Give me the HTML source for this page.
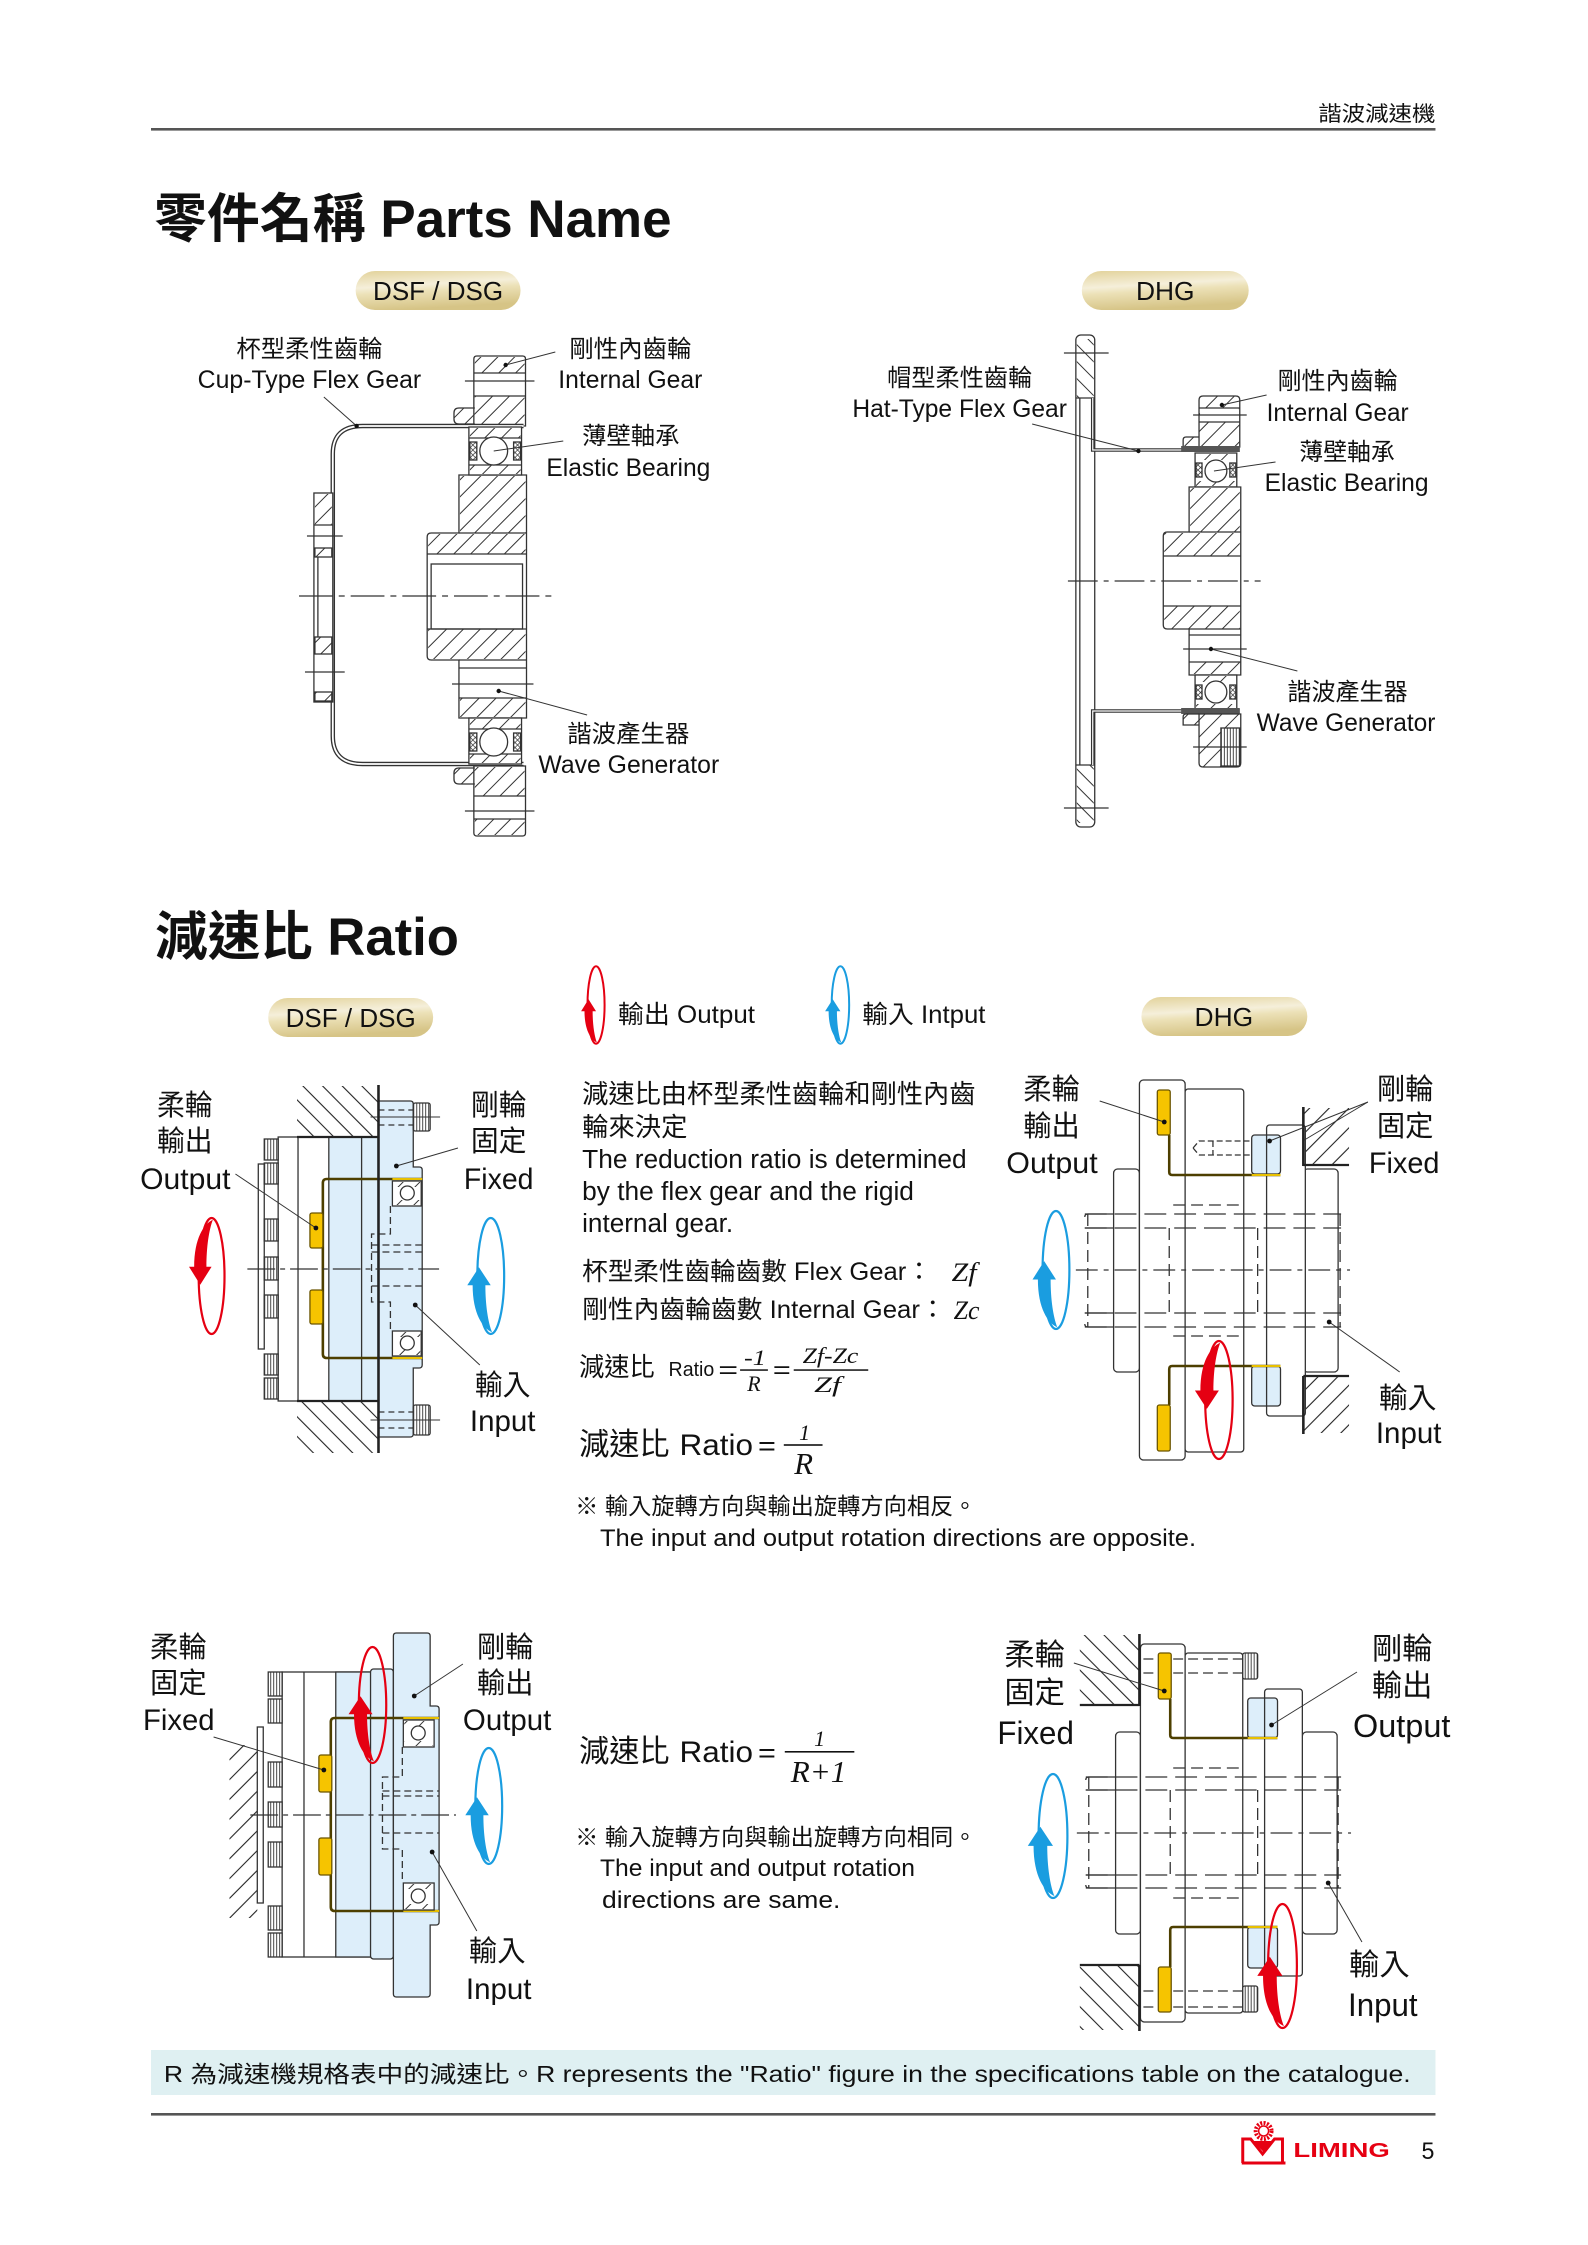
<!DOCTYPE html>
<html><head><meta charset="utf-8"><title>零件名稱 Parts Name</title>
<style>
html,body{margin:0;padding:0;background:#fff;}
svg{display:block;}
text{font-family:"Liberation Sans","Noto Sans CJK TC",sans-serif;fill:#111;}
.m{font-family:"Liberation Serif","Noto Serif CJK SC",serif;font-style:italic;}
</style></head><body>
<svg xmlns="http://www.w3.org/2000/svg" width="1588" height="2245" viewBox="0 0 1588 2245">
<defs>
<pattern id="hf" patternUnits="userSpaceOnUse" width="12" height="12" patternTransform="rotate(45)"><line x1="6" y1="0" x2="6" y2="12" stroke="#333" stroke-width="1"/></pattern>
<pattern id="hb" patternUnits="userSpaceOnUse" width="12" height="12" patternTransform="rotate(-45)"><line x1="6" y1="0" x2="6" y2="12" stroke="#333" stroke-width="1"/></pattern>
<pattern id="rf" patternUnits="userSpaceOnUse" width="14" height="14" patternTransform="rotate(45)"><line x1="7" y1="0" x2="7" y2="14" stroke="#222" stroke-width="1.1"/></pattern>
<pattern id="rb" patternUnits="userSpaceOnUse" width="14" height="14" patternTransform="rotate(-45)"><line x1="7" y1="0" x2="7" y2="14" stroke="#222" stroke-width="1.1"/></pattern>
<pattern id="kn" patternUnits="userSpaceOnUse" width="3" height="8"><rect width="3" height="8" fill="#fff"/><line x1="1.5" y1="0" x2="1.5" y2="8" stroke="#333" stroke-width="0.9"/></pattern>
<pattern id="xx" patternUnits="userSpaceOnUse" width="5" height="5"><rect width="5" height="5" fill="#fff"/><path d="M0,0 L5,5 M5,0 L0,5" stroke="#333" stroke-width="0.7"/></pattern>
<linearGradient id="pg" x1="0" y1="0" x2="0.25" y2="1">
<stop offset="0" stop-color="#e2d29a"/><stop offset="0.42" stop-color="#f5efda"/><stop offset="0.58" stop-color="#ece1b7"/><stop offset="1" stop-color="#d6c486"/></linearGradient>
</defs>
<g transform="translate(151,0) scale(0.9934,1) translate(-151,0)">

<!-- HEADER -->
<text x="1326" y="121" font-size="21" textLength="118" lengthAdjust="spacingAndGlyphs">諧波減速機</text>
<rect x="151" y="128" width="1293" height="2.6" fill="#555"/>
<text x="154" y="237" font-size="53" font-weight="bold" textLength="521" lengthAdjust="spacingAndGlyphs">零件名稱 Parts Name</text>

<!-- PILLS top -->
<rect x="357" y="271" width="166" height="39" rx="19.5" fill="url(#pg)"/>
<text x="440" y="300" font-size="26" text-anchor="middle" textLength="131" lengthAdjust="spacingAndGlyphs" fill="#222">DSF / DSG</text>
<rect x="1088" y="271" width="168" height="39" rx="19.5" fill="url(#pg)"/>
<text x="1172" y="300" font-size="26" text-anchor="middle" textLength="59" lengthAdjust="spacingAndGlyphs" fill="#222">DHG</text>

<!-- DSF PARTS DRAWING -->
<g stroke="#333" stroke-width="1.3" fill="none">
<path d="M476,426 V359 Q476,356 479,356 H525 Q528,356 528,359 V426 Z" fill="#fff"/>
<rect x="477" y="357" width="50" height="16" fill="url(#hf)" stroke="none"/>
<line x1="476" y1="373" x2="528" y2="373"/>
<line x1="467" y1="381" x2="537" y2="381"/>
<line x1="476" y1="396" x2="528" y2="396"/>
<rect x="477" y="396" width="50" height="29" fill="url(#hf)" stroke="none"/>
<path d="M477,408 H461 Q456,408 456,413 V419 Q456,424 461,424 H477" fill="url(#hf)"/>
<path d="M476,766 V833 Q476,836 479,836 H525 Q528,836 528,833 V766 Z" fill="#fff"/>
<rect x="477" y="767" width="50" height="29" fill="url(#hf)" stroke="none"/>
<line x1="476" y1="796" x2="528" y2="796"/>
<line x1="467" y1="811" x2="537" y2="811"/>
<line x1="476" y1="819" x2="528" y2="819"/>
<rect x="477" y="819" width="50" height="16" fill="url(#hf)" stroke="none"/>
<path d="M477,768 H461 Q456,768 456,773 V779 Q456,784 461,784 H477" fill="url(#hf)"/>
<path d="M526,426 H364 Q334,426 334,454 V736 Q334,764 364,764 H526" stroke="#333" stroke-width="4.5"/>
<path d="M526,426 H364 Q334,426 334,454 V736 Q334,764 364,764 H526" stroke="#fff" stroke-width="1.8"/>
<rect x="315" y="493" width="19" height="209" fill="#fff"/>
<rect x="316" y="494" width="17" height="31" fill="url(#hf)" stroke="none"/>
<line x1="315" y1="525" x2="334" y2="525"/>
<line x1="308" y1="536" x2="344" y2="536"/>
<rect x="316" y="548" width="17" height="9" fill="url(#hf)"/>
<line x1="319" y1="557" x2="319" y2="637"/>
<rect x="316" y="637" width="17" height="17" fill="url(#hf)"/>
<line x1="306" y1="672" x2="346" y2="672"/>
<rect x="316" y="692" width="17" height="9" fill="url(#hf)"/>
<path d="M461,475 H529 V718 H461 V660 H433 Q429,660 429,656 V537 Q429,533 433,533 H461 Z" fill="#fff"/>
<rect x="462" y="476" width="66" height="57" fill="url(#hf)" stroke="none"/>
<rect x="430" y="534" width="98" height="20" fill="url(#hf)" stroke="none"/>
<line x1="429" y1="554" x2="529" y2="554"/>
<rect x="433" y="564" width="92" height="65"/>
<rect x="430" y="629" width="98" height="30" fill="url(#hf)" stroke="none"/>
<line x1="429" y1="629" x2="529" y2="629"/>
<line x1="461" y1="533" x2="529" y2="533"/>
<line x1="461" y1="660" x2="529" y2="660"/>
<line x1="461" y1="668" x2="529" y2="668"/>
<line x1="454" y1="684" x2="536" y2="684"/>
<line x1="461" y1="698" x2="529" y2="698"/>
<rect x="462" y="698" width="66" height="19" fill="url(#hf)" stroke="none"/>
<rect x="471" y="427" width="53" height="48" fill="#fff"/>
<rect x="472" y="428" width="51" height="10" fill="url(#hf)" stroke="none"/>
<line x1="471" y1="438" x2="524" y2="438"/>
<rect x="472" y="465" width="51" height="9" fill="url(#hf)" stroke="none"/>
<line x1="471" y1="465" x2="524" y2="465"/>
<rect x="472" y="442" width="7" height="18" fill="url(#xx)"/>
<rect x="516" y="442" width="7" height="18" fill="url(#xx)"/>
<circle cx="496" cy="451" r="14" fill="#fff"/>
<rect x="471" y="718" width="53" height="46" fill="#fff"/>
<rect x="472" y="719" width="51" height="10" fill="url(#hf)" stroke="none"/>
<line x1="471" y1="729" x2="524" y2="729"/>
<rect x="472" y="754" width="51" height="9" fill="url(#hf)" stroke="none"/>
<line x1="471" y1="754" x2="524" y2="754"/>
<rect x="472" y="733" width="7" height="18" fill="url(#xx)"/>
<rect x="516" y="733" width="7" height="18" fill="url(#xx)"/>
<circle cx="496" cy="742" r="14" fill="#fff"/>
<line x1="300" y1="596" x2="560" y2="596" stroke-dasharray="34 6 6 6"/>
<line x1="325" y1="397" x2="358" y2="426" stroke-width="1"/>
<line x1="558" y1="352" x2="508" y2="365" stroke-width="1"/>
<line x1="566" y1="441" x2="496" y2="451" stroke-width="1"/>
<line x1="590" y1="715" x2="501" y2="691" stroke-width="1"/>
</g>
<g fill="#111"><circle cx="358" cy="426" r="2.2"/><circle cx="508" cy="365" r="2.2"/><circle cx="501" cy="691" r="2.2"/></g>
<text x="237" y="357" font-size="24" textLength="147" lengthAdjust="spacingAndGlyphs">杯型柔性齒輪</text>
<text x="198" y="388" font-size="25" textLength="225" lengthAdjust="spacingAndGlyphs">Cup-Type Flex Gear</text>
<text x="572" y="357" font-size="24" textLength="123" lengthAdjust="spacingAndGlyphs">剛性內齒輪</text>
<text x="561" y="388" font-size="25" textLength="145" lengthAdjust="spacingAndGlyphs">Internal Gear</text>
<text x="585" y="444" font-size="24" textLength="98" lengthAdjust="spacingAndGlyphs">薄壁軸承</text>
<text x="549" y="476" font-size="25" textLength="165" lengthAdjust="spacingAndGlyphs">Elastic Bearing</text>
<text x="570" y="742" font-size="24" textLength="123" lengthAdjust="spacingAndGlyphs">諧波產生器</text>
<text x="541" y="773" font-size="25" textLength="182" lengthAdjust="spacingAndGlyphs">Wave Generator</text>

<!-- DHG PARTS DRAWING -->
<g stroke="#333" stroke-width="1.3" fill="none">
<rect x="1082" y="335" width="19" height="492" rx="5" fill="#fff"/>
<rect x="1083" y="339" width="17" height="59" fill="url(#hb)" stroke="none"/>
<rect x="1083" y="765" width="17" height="58" fill="url(#hb)" stroke="none"/>
<line x1="1082" y1="398" x2="1101" y2="398"/>
<line x1="1082" y1="765" x2="1101" y2="765"/>
<line x1="1086" y1="398" x2="1086" y2="765"/>
<line x1="1070" y1="353" x2="1115" y2="353"/>
<line x1="1070" y1="808" x2="1115" y2="808"/>
<path d="M1099,398 V450 H1247" stroke-width="3.6"/>
<path d="M1099,398 V450 H1247" stroke="#fff" stroke-width="1.2"/>
<path d="M1099,765 V711 H1247" stroke-width="3.6"/>
<path d="M1099,765 V711 H1247" stroke="#fff" stroke-width="1.2"/>
<path d="M1206,447 V400 Q1206,396 1210,396 H1243 Q1247,396 1247,400 V447 Z" fill="url(#hf)"/>
<rect x="1207" y="408" width="39" height="14" fill="#fff" stroke="none"/>
<line x1="1206" y1="408" x2="1247" y2="408"/><line x1="1206" y1="422" x2="1247" y2="422"/>
<line x1="1200" y1="415" x2="1254" y2="415"/>
<path d="M1206,437 H1193 Q1190,437 1190,440 V447 H1206" fill="url(#hf)"/>
<rect x="1188" y="446" width="59" height="6" fill="#555" stroke="none"/>
<rect x="1202" y="453" width="42" height="34" fill="#fff"/>
<rect x="1203" y="454" width="40" height="6" fill="url(#hf)" stroke="none"/>
<rect x="1203" y="481" width="40" height="5" fill="url(#hf)" stroke="none"/>
<rect x="1203" y="463" width="6" height="14" fill="url(#xx)"/>
<rect x="1237" y="463" width="6" height="14" fill="url(#xx)"/>
<circle cx="1223" cy="471" r="11" fill="#fff"/>
<path d="M1196,487 H1248 V675 H1196 V629 H1174 Q1170,629 1170,625 V536 Q1170,532 1174,532 H1196 Z" fill="#fff"/>
<rect x="1197" y="488" width="50" height="44" fill="url(#hf)" stroke="none"/>
<rect x="1171" y="533" width="76" height="23" fill="url(#hf)" stroke="none"/>
<line x1="1170" y1="556" x2="1248" y2="556"/>
<line x1="1170" y1="606" x2="1248" y2="606"/>
<rect x="1171" y="606" width="76" height="23" fill="url(#hf)" stroke="none"/>
<line x1="1196" y1="532" x2="1248" y2="532"/>
<line x1="1196" y1="629" x2="1248" y2="629"/>
<line x1="1196" y1="635" x2="1248" y2="635"/>
<line x1="1190" y1="649" x2="1254" y2="649"/>
<line x1="1196" y1="662" x2="1248" y2="662"/>
<rect x="1197" y="662" width="50" height="12" fill="url(#hf)" stroke="none"/>
<rect x="1202" y="675" width="42" height="35" fill="#fff"/>
<rect x="1203" y="676" width="40" height="6" fill="url(#hf)" stroke="none"/>
<rect x="1203" y="704" width="40" height="5" fill="url(#hf)" stroke="none"/>
<rect x="1203" y="685" width="6" height="14" fill="url(#xx)"/>
<rect x="1237" y="685" width="6" height="14" fill="url(#xx)"/>
<circle cx="1223" cy="692" r="11" fill="#fff"/>
<rect x="1188" y="708" width="59" height="6" fill="#555" stroke="none"/>
<path d="M1206,714 V763 Q1206,767 1210,767 H1244 Q1248,767 1248,763 V714 Z" fill="url(#hf)"/>
<rect x="1228" y="728" width="19" height="38" fill="url(#kn)"/>
<line x1="1200" y1="747" x2="1254" y2="747"/>
<path d="M1206,714 H1193 Q1190,714 1190,717 V725 H1206" fill="url(#hf)"/>
<line x1="1074" y1="581" x2="1268" y2="581" stroke-dasharray="30 6 5 6"/>
<line x1="1038" y1="424" x2="1145" y2="451" stroke-width="1"/>
<line x1="1274" y1="395" x2="1229" y2="405" stroke-width="1"/>
<line x1="1283" y1="462" x2="1221" y2="471" stroke-width="1"/>
<line x1="1305" y1="671" x2="1218" y2="649" stroke-width="1"/>
</g>
<g fill="#111"><circle cx="1145" cy="451" r="2.2"/><circle cx="1229" cy="405" r="2.2"/><circle cx="1218" cy="649" r="2.2"/></g>
<text x="892" y="386" font-size="24" textLength="146" lengthAdjust="spacingAndGlyphs">帽型柔性齒輪</text>
<text x="857" y="417" font-size="25" textLength="216" lengthAdjust="spacingAndGlyphs">Hat-Type Flex Gear</text>
<text x="1285" y="389" font-size="24" textLength="121" lengthAdjust="spacingAndGlyphs">剛性內齒輪</text>
<text x="1274" y="421" font-size="25" textLength="143" lengthAdjust="spacingAndGlyphs">Internal Gear</text>
<text x="1307" y="460" font-size="24" textLength="96" lengthAdjust="spacingAndGlyphs">薄壁軸承</text>
<text x="1272" y="491" font-size="25" textLength="165" lengthAdjust="spacingAndGlyphs">Elastic Bearing</text>
<text x="1295" y="700" font-size="24" textLength="121" lengthAdjust="spacingAndGlyphs">諧波產生器</text>
<text x="1264" y="731" font-size="25" textLength="180" lengthAdjust="spacingAndGlyphs">Wave Generator</text>

<!-- RATIO TITLE -->
<text x="155" y="955" font-size="53" font-weight="bold" textLength="306" lengthAdjust="spacingAndGlyphs">減速比 Ratio</text>
<rect x="269" y="998" width="166" height="39" rx="19.5" fill="url(#pg)"/>
<text x="352" y="1027" font-size="26" text-anchor="middle" textLength="131" lengthAdjust="spacingAndGlyphs" fill="#222">DSF / DSG</text>
<rect x="1148" y="997" width="167" height="39" rx="19.5" fill="url(#pg)"/>
<text x="1231" y="1026" font-size="26" text-anchor="middle" textLength="59" lengthAdjust="spacingAndGlyphs" fill="#222">DHG</text>

<!-- LEGEND -->
<g transform="translate(599,1005) scale(8.6,38.7)"><ellipse cx="0" cy="0" rx="1" ry="1" fill="none" stroke="#e50012" stroke-width="2" vector-effect="non-scaling-stroke"/><path d="M0.1,0.97 C-0.6,0.9 -1.35,0.65 -1.35,0.16 L-1.75,0.16 L-0.88,-0.15 L0,0.16 L-0.4,0.16 C-0.4,0.5 -0.2,0.8 0.1,0.97 Z" fill="#e50012"/></g>
<text x="621" y="1023" font-size="25" textLength="138" lengthAdjust="spacingAndGlyphs">輸出 Output</text>
<g transform="translate(845,1005) scale(8.8,38.7)"><ellipse cx="0" cy="0" rx="1" ry="1" fill="none" stroke="#1a9de0" stroke-width="2" vector-effect="non-scaling-stroke"/><path d="M0.1,0.97 C-0.6,0.9 -1.35,0.65 -1.35,0.16 L-1.75,0.16 L-0.88,-0.15 L0,0.16 L-0.4,0.16 C-0.4,0.5 -0.2,0.8 0.1,0.97 Z" fill="#1a9de0"/></g>
<text x="867" y="1023" font-size="25" textLength="124" lengthAdjust="spacingAndGlyphs">輸入 Intput</text>

<!-- PARAGRAPH -->
<text x="585" y="1103" font-size="26" textLength="396" lengthAdjust="spacingAndGlyphs">減速比由杯型柔性齒輪和剛性內齒</text>
<text x="585" y="1136" font-size="26" textLength="106" lengthAdjust="spacingAndGlyphs">輪來決定</text>
<text x="585" y="1168" font-size="26" textLength="387" lengthAdjust="spacingAndGlyphs">The reduction ratio is determined</text>
<text x="585" y="1200" font-size="26" textLength="334" lengthAdjust="spacingAndGlyphs">by the flex gear and the rigid</text>
<text x="585" y="1232" font-size="26" textLength="152" lengthAdjust="spacingAndGlyphs">internal gear.</text>
<text x="585" y="1280" font-size="25" textLength="352" lengthAdjust="spacingAndGlyphs">杯型柔性齒輪齒數 Flex Gear：</text>
<text class="m" x="957" y="1281" font-size="26" textLength="25" lengthAdjust="spacingAndGlyphs">Zf</text>
<text x="585" y="1318" font-size="25" textLength="366" lengthAdjust="spacingAndGlyphs">剛性內齒輪齒數 Internal Gear：</text>
<text class="m" x="959" y="1319" font-size="26" textLength="26" lengthAdjust="spacingAndGlyphs">Zc</text>

<!-- FORMULA 1 -->
<text x="582" y="1376" font-size="26" textLength="76" lengthAdjust="spacingAndGlyphs">減速比</text>
<text x="672" y="1376" font-size="20" textLength="46" lengthAdjust="spacingAndGlyphs">Ratio</text>
<text x="722" y="1378" font-size="24" textLength="20" lengthAdjust="spacingAndGlyphs">=</text>
<text class="m" x="759" y="1365" font-size="22" text-anchor="middle" textLength="22" lengthAdjust="spacingAndGlyphs">-1</text>
<rect x="744" y="1369.3" width="28" height="1.5" fill="#111"/>
<text class="m" x="758" y="1391" font-size="22" text-anchor="middle">R</text>
<text x="777" y="1378" font-size="24" textLength="18" lengthAdjust="spacingAndGlyphs">=</text>
<text class="m" x="835" y="1363" font-size="22" text-anchor="middle" textLength="56" lengthAdjust="spacingAndGlyphs">Zf-Zc</text>
<rect x="798" y="1369.3" width="75" height="1.5" fill="#111"/>
<text class="m" x="832" y="1392" font-size="22" text-anchor="middle" textLength="27" lengthAdjust="spacingAndGlyphs">Zf</text>

<!-- FORMULA 2 -->
<text x="582" y="1455" font-size="31" textLength="91" lengthAdjust="spacingAndGlyphs">減速比</text>
<text x="683" y="1455" font-size="30" textLength="74" lengthAdjust="spacingAndGlyphs">Ratio</text>
<text x="762" y="1455" font-size="27" textLength="18" lengthAdjust="spacingAndGlyphs">=</text>
<text class="m" x="809" y="1440" font-size="22" text-anchor="middle">1</text>
<rect x="788" y="1444.2" width="39" height="1.6" fill="#111"/>
<text class="m" x="808" y="1474" font-size="31" text-anchor="middle">R</text>

<text x="578" y="1514" font-size="23" textLength="404" lengthAdjust="spacingAndGlyphs">※ 輸入旋轉方向與輸出旋轉方向相反。</text>
<text x="603" y="1546" font-size="24" textLength="600" lengthAdjust="spacingAndGlyphs">The input and output rotation directions are opposite.</text>

<!-- FORMULA 3 -->
<text x="582" y="1762" font-size="31" textLength="91" lengthAdjust="spacingAndGlyphs">減速比</text>
<text x="683" y="1762" font-size="30" textLength="74" lengthAdjust="spacingAndGlyphs">Ratio</text>
<text x="762" y="1762" font-size="27" textLength="18" lengthAdjust="spacingAndGlyphs">=</text>
<text class="m" x="824" y="1746" font-size="22" text-anchor="middle">1</text>
<rect x="789" y="1751" width="70" height="1.6" fill="#111"/>
<text class="m" x="823" y="1782" font-size="31" text-anchor="middle" textLength="56" lengthAdjust="spacingAndGlyphs">R+1</text>

<text x="578" y="1845" font-size="23" textLength="404" lengthAdjust="spacingAndGlyphs">※ 輸入旋轉方向與輸出旋轉方向相同。</text>
<text x="603" y="1876" font-size="24" textLength="317" lengthAdjust="spacingAndGlyphs">The input and output rotation</text>
<text x="605" y="1908" font-size="24" textLength="240" lengthAdjust="spacingAndGlyphs">directions are same.</text>

<!-- R1: DSF top ratio drawing -->
<g stroke="#333" stroke-width="1.3" fill="none">
<rect x="298" y="1086" width="82" height="51" fill="url(#rb)" stroke="none"/>
<rect x="298" y="1402" width="82" height="51" fill="url(#rb)" stroke="none"/>
<rect x="279" y="1137" width="101" height="264" fill="#fff"/>
<rect x="330" y="1137" width="50" height="264" fill="#ddeefa"/>
<line x1="299" y1="1137" x2="299" y2="1401"/>
<line x1="363" y1="1137" x2="363" y2="1401"/>
<rect x="259" y="1164" width="6" height="185" fill="#fff"/>
<rect x="265" y="1139" width="14" height="21" fill="url(#kn)"/>
<rect x="265" y="1163" width="14" height="21" fill="url(#kn)"/>
<rect x="265" y="1219" width="14" height="22" fill="url(#kn)"/>
<rect x="265" y="1257" width="14" height="23" fill="url(#kn)"/>
<rect x="265" y="1295" width="14" height="23" fill="url(#kn)"/>
<rect x="265" y="1354" width="14" height="21" fill="url(#kn)"/>
<rect x="265" y="1378" width="14" height="21" fill="url(#kn)"/>
<path d="M380,1101 H412 Q415,1101 415,1104 V1167 H421 Q424,1167 424,1170 V1365 Q424,1368 421,1368 H415 V1434 Q415,1437 412,1437 H380 Z" fill="#ddeefa"/>
<rect x="415" y="1103" width="17" height="28" rx="2" fill="url(#kn)"/>
<rect x="415" y="1405" width="17" height="30" rx="2" fill="url(#kn)"/>
<path d="M380,1110 H415 M380,1125 H415 M380,1412 H415 M380,1428 H415" stroke-dasharray="6 4"/>
<path d="M372,1117 H442 M372,1420 H442" stroke-width="1"/>
<path d="M424,1179 H328 Q324,1179 324,1183 V1354 Q324,1358 328,1358 H424" stroke="#4d3f00" stroke-width="2.6"/>
<line x1="394" y1="1179" x2="424" y2="1179" stroke="#e8c000" stroke-width="2"/>
<line x1="394" y1="1358" x2="424" y2="1358" stroke="#e8c000" stroke-width="2"/>
<rect x="311" y="1213" width="13" height="35" rx="2" fill="#f6c400" stroke="#6b5500"/>
<rect x="311" y="1290" width="13" height="34" rx="2" fill="#f6c400" stroke="#6b5500"/>
<rect x="394" y="1181" width="29" height="25" fill="#fff"/>
<rect x="395" y="1182" width="27" height="5" fill="url(#hf)" stroke="none"/>
<rect x="395" y="1200" width="27" height="5" fill="url(#hf)" stroke="none"/>
<circle cx="409" cy="1193" r="7" fill="#fff"/>
<rect x="394" y="1331" width="29" height="25" fill="#fff"/>
<rect x="395" y="1332" width="27" height="5" fill="url(#hf)" stroke="none"/>
<rect x="395" y="1350" width="27" height="5" fill="url(#hf)" stroke="none"/>
<circle cx="409" cy="1343" r="7" fill="#fff"/>
<path d="M392,1206 V1234 H373 V1302 H392 V1331" stroke-dasharray="7 4"/>
<path d="M373,1245 H424 M373,1252 H424 M373,1286 H424" stroke-dasharray="7 4"/>
<line x1="380" y1="1085" x2="380" y2="1453" stroke="#222" stroke-width="2.6"/>
<line x1="298" y1="1137" x2="380" y2="1137" stroke="#222" stroke-width="2.2"/>
<line x1="298" y1="1401" x2="380" y2="1401" stroke="#222" stroke-width="2.2"/>
<line x1="248" y1="1269" x2="441" y2="1269" stroke-dasharray="28 5 5 5"/>
<line x1="236" y1="1174" x2="317" y2="1228" stroke-width="1"/>
<line x1="460" y1="1148" x2="398" y2="1166" stroke-width="1"/>
<line x1="482" y1="1365" x2="417" y2="1305" stroke-width="1"/>
</g>
<g fill="#111"><circle cx="317" cy="1228" r="2.4"/><circle cx="398" cy="1166" r="2.4"/><circle cx="417" cy="1305" r="2.4"/></g>
<g transform="translate(212,1276) scale(13,-58)"><ellipse cx="0" cy="0" rx="1" ry="1" fill="none" stroke="#e50012" stroke-width="2.2" vector-effect="non-scaling-stroke"/><path d="M0.1,0.97 C-0.6,0.9 -1.35,0.65 -1.35,0.16 L-1.75,0.16 L-0.88,-0.15 L0,0.16 L-0.4,0.16 C-0.4,0.5 -0.2,0.8 0.1,0.97 Z" fill="#e50012"/></g>
<g transform="translate(493,1276) scale(13.5,58)"><ellipse cx="0" cy="0" rx="1" ry="1" fill="none" stroke="#1a9de0" stroke-width="2.2" vector-effect="non-scaling-stroke"/><path d="M0.1,0.97 C-0.6,0.9 -1.35,0.65 -1.35,0.16 L-1.75,0.16 L-0.88,-0.15 L0,0.16 L-0.4,0.16 C-0.4,0.5 -0.2,0.8 0.1,0.97 Z" fill="#1a9de0"/></g>
<text x="157" y="1115" font-size="29" textLength="56" lengthAdjust="spacingAndGlyphs">柔輪</text>
<text x="157" y="1151" font-size="29" textLength="56" lengthAdjust="spacingAndGlyphs">輸出</text>
<text x="140" y="1189" font-size="30" textLength="91" lengthAdjust="spacingAndGlyphs">Output</text>
<text x="473" y="1115" font-size="29" textLength="56" lengthAdjust="spacingAndGlyphs">剛輪</text>
<text x="473" y="1151" font-size="29" textLength="56" lengthAdjust="spacingAndGlyphs">固定</text>
<text x="466" y="1189" font-size="30" textLength="70" lengthAdjust="spacingAndGlyphs">Fixed</text>
<text x="477" y="1395" font-size="29" textLength="56" lengthAdjust="spacingAndGlyphs">輸入</text>
<text x="472" y="1431" font-size="30" textLength="66" lengthAdjust="spacingAndGlyphs">Input</text>

<!-- R2: DHG top ratio drawing -->
<g stroke="#333" stroke-width="1.3" fill="none">
<rect x="1311" y="1108" width="46" height="57" fill="url(#rf)" stroke="none"/>
<rect x="1311" y="1376" width="46" height="57" fill="url(#rf)" stroke="none"/>
<rect x="1120" y="1169" width="26" height="203" rx="4" fill="#fff"/>
<rect x="1311" y="1169" width="35" height="203" rx="4" fill="#fff"/>
<rect x="1146" y="1080" width="46" height="380" rx="4" fill="#fff"/>
<rect x="1192" y="1089" width="59" height="363" rx="3" fill="#fff"/>
<rect x="1274" y="1125" width="39" height="291" rx="3" fill="#fff"/>
<path d="M1091,1214 H1349 M1091,1228 H1349 M1091,1313 H1349 M1091,1327 H1349" stroke-dasharray="22 8"/>
<path d="M1180,1205 H1251 M1180,1336 H1251 M1176,1228 V1313 M1265,1228 V1313 M1348,1214 V1327 M1094,1214 V1327" stroke-dasharray="12 6"/>
<path d="M1120,1214 H1094 Q1091,1214 1091,1217 M1120,1228 H1091 M1120,1313 H1091 M1120,1327 H1094 Q1091,1327 1091,1324"/>
<rect x="1259" y="1135" width="29" height="39" rx="3" fill="#ddeefa"/>
<rect x="1259" y="1366" width="29" height="40" rx="3" fill="#ddeefa"/>
<line x1="1274" y1="1135" x2="1274" y2="1174"/><line x1="1274" y1="1366" x2="1274" y2="1406"/>
<path d="M1200,1148 L1206,1141 H1259 M1206,1155 H1259 M1200,1148 L1206,1155 M1220,1141 V1155" stroke-dasharray="6 3"/>
<path d="M1176,1135 V1172 Q1176,1175 1179,1175 H1288" stroke="#4d3f00" stroke-width="2.6"/>
<path d="M1176,1405 V1369 Q1176,1366 1179,1366 H1288" stroke="#4d3f00" stroke-width="2.6"/>
<line x1="1259" y1="1175" x2="1288" y2="1175" stroke="#e8c000" stroke-width="2"/>
<line x1="1259" y1="1366" x2="1288" y2="1366" stroke="#e8c000" stroke-width="2"/>
<rect x="1164" y="1090" width="13" height="45" rx="2" fill="#f6c400" stroke="#6b5500"/>
<rect x="1164" y="1405" width="13" height="46" rx="2" fill="#f6c400" stroke="#6b5500"/>
<line x1="1311" y1="1107" x2="1311" y2="1166" stroke="#222" stroke-width="2.6"/>
<line x1="1311" y1="1165" x2="1357" y2="1165" stroke="#222" stroke-width="2.2"/>
<line x1="1311" y1="1376" x2="1311" y2="1434" stroke="#222" stroke-width="2.6"/>
<line x1="1311" y1="1376" x2="1357" y2="1376" stroke="#222" stroke-width="2.2"/>
<line x1="1082" y1="1270" x2="1358" y2="1270" stroke-dasharray="22 6 5 6"/>
<line x1="1106" y1="1101" x2="1171" y2="1122" stroke-width="1"/>
<line x1="1376" y1="1102" x2="1277" y2="1141" stroke-width="1"/>
<line x1="1376" y1="1102" x2="1312" y2="1140" stroke-width="1"/>
<line x1="1408" y1="1372" x2="1337" y2="1322" stroke-width="1"/>
</g>
<g fill="#111"><circle cx="1171" cy="1122" r="2.4"/><circle cx="1277" cy="1141" r="2.4"/><circle cx="1337" cy="1322" r="2.4"/></g>
<g transform="translate(1062,1270) scale(13.5,59)"><ellipse cx="0" cy="0" rx="1" ry="1" fill="none" stroke="#1a9de0" stroke-width="2.2" vector-effect="non-scaling-stroke"/><path d="M0.1,0.97 C-0.6,0.9 -1.35,0.65 -1.35,0.16 L-1.75,0.16 L-0.88,-0.15 L0,0.16 L-0.4,0.16 C-0.4,0.5 -0.2,0.8 0.1,0.97 Z" fill="#1a9de0"/></g>
<g transform="translate(1226,1400) scale(13.8,-59)"><ellipse cx="0" cy="0" rx="1" ry="1" fill="none" stroke="#e50012" stroke-width="2.2" vector-effect="non-scaling-stroke"/><path d="M0.1,0.97 C-0.6,0.9 -1.35,0.65 -1.35,0.16 L-1.75,0.16 L-0.88,-0.15 L0,0.16 L-0.4,0.16 C-0.4,0.5 -0.2,0.8 0.1,0.97 Z" fill="#e50012"/></g>
<text x="1029" y="1099" font-size="29" textLength="57" lengthAdjust="spacingAndGlyphs">柔輪</text>
<text x="1029" y="1136" font-size="29" textLength="57" lengthAdjust="spacingAndGlyphs">輸出</text>
<text x="1012" y="1173" font-size="30" textLength="92" lengthAdjust="spacingAndGlyphs">Output</text>
<text x="1385" y="1099" font-size="29" textLength="57" lengthAdjust="spacingAndGlyphs">剛輪</text>
<text x="1385" y="1136" font-size="29" textLength="57" lengthAdjust="spacingAndGlyphs">固定</text>
<text x="1377" y="1173" font-size="30" textLength="71" lengthAdjust="spacingAndGlyphs">Fixed</text>
<text x="1387" y="1408" font-size="29" textLength="58" lengthAdjust="spacingAndGlyphs">輸入</text>
<text x="1384" y="1443" font-size="30" textLength="66" lengthAdjust="spacingAndGlyphs">Input</text>

<!-- R3: DSF bottom ratio drawing -->
<g stroke="#333" stroke-width="1.3" fill="none">
<rect x="230" y="1745" width="28" height="173" fill="url(#rf)" stroke="none"/>
<rect x="258" y="1727" width="6" height="176" fill="#fff"/>
<rect x="283" y="1672" width="112" height="285" fill="#fff"/>
<rect x="337" y="1672" width="58" height="285" fill="#ddeefa"/>
<rect x="372" y="1669" width="23" height="290" rx="3" fill="#ddeefa"/>
<line x1="305" y1="1672" x2="305" y2="1957"/>
<path d="M395,1636 Q395,1633 398,1633 H429 Q432,1633 432,1636 V1706 H438 Q441,1706 441,1709 V1922 Q441,1925 438,1925 H432 V1994 Q432,1997 429,1997 H398 Q395,1997 395,1994 Z" fill="#ddeefa"/>
<rect x="269" y="1672" width="14" height="24" fill="url(#kn)"/>
<rect x="269" y="1699" width="14" height="24" fill="url(#kn)"/>
<rect x="269" y="1762" width="14" height="25" fill="url(#kn)"/>
<rect x="269" y="1802" width="14" height="25" fill="url(#kn)"/>
<rect x="269" y="1842" width="14" height="25" fill="url(#kn)"/>
<rect x="269" y="1906" width="14" height="24" fill="url(#kn)"/>
<rect x="269" y="1933" width="14" height="24" fill="url(#kn)"/>
<path d="M441,1718 H336 Q332,1718 332,1722 V1907 Q332,1911 336,1911 H441" stroke="#4d3f00" stroke-width="2.6"/>
<line x1="405" y1="1718" x2="441" y2="1718" stroke="#e8c000" stroke-width="2"/>
<line x1="405" y1="1911" x2="441" y2="1911" stroke="#e8c000" stroke-width="2"/>
<rect x="320" y="1755" width="13" height="37" rx="2" fill="#f6c400" stroke="#6b5500"/>
<rect x="320" y="1838" width="13" height="37" rx="2" fill="#f6c400" stroke="#6b5500"/>
<rect x="405" y="1720" width="31" height="27" fill="#fff"/>
<rect x="406" y="1721" width="29" height="5" fill="url(#hf)" stroke="none"/>
<rect x="406" y="1741" width="29" height="5" fill="url(#hf)" stroke="none"/>
<circle cx="420" cy="1733" r="7" fill="#fff"/>
<rect x="405" y="1883" width="31" height="27" fill="#fff"/>
<rect x="406" y="1884" width="29" height="5" fill="url(#hf)" stroke="none"/>
<rect x="406" y="1904" width="29" height="5" fill="url(#hf)" stroke="none"/>
<circle cx="420" cy="1896" r="7" fill="#fff"/>
<path d="M404,1747 V1777 H384 V1849 H404 V1883" stroke-dasharray="7 4"/>
<path d="M384,1791 H441 M384,1796 H441 M384,1833 H441" stroke-dasharray="7 4"/>
<line x1="251" y1="1815" x2="458" y2="1815" stroke-dasharray="28 5 5 5"/>
<line x1="214" y1="1737" x2="325" y2="1770" stroke-width="1"/>
<line x1="465" y1="1664" x2="416" y2="1696" stroke-width="1"/>
<line x1="479" y1="1931" x2="434" y2="1852" stroke-width="1"/>
</g>
<g fill="#111"><circle cx="325" cy="1770" r="2.4"/><circle cx="416" cy="1696" r="2.4"/><circle cx="434" cy="1852" r="2.4"/></g>
<g transform="translate(374,1705) scale(13.8,58)"><ellipse cx="0" cy="0" rx="1" ry="1" fill="none" stroke="#e50012" stroke-width="2.2" vector-effect="non-scaling-stroke"/><path d="M0.1,0.97 C-0.6,0.9 -1.35,0.65 -1.35,0.16 L-1.75,0.16 L-0.88,-0.15 L0,0.16 L-0.4,0.16 C-0.4,0.5 -0.2,0.8 0.1,0.97 Z" fill="#e50012"/></g>
<g transform="translate(491,1806) scale(13.5,58)"><ellipse cx="0" cy="0" rx="1" ry="1" fill="none" stroke="#1a9de0" stroke-width="2.2" vector-effect="non-scaling-stroke"/><path d="M0.1,0.97 C-0.6,0.9 -1.35,0.65 -1.35,0.16 L-1.75,0.16 L-0.88,-0.15 L0,0.16 L-0.4,0.16 C-0.4,0.5 -0.2,0.8 0.1,0.97 Z" fill="#1a9de0"/></g>
<text x="150" y="1657" font-size="29" textLength="57" lengthAdjust="spacingAndGlyphs">柔輪</text>
<text x="150" y="1693" font-size="29" textLength="57" lengthAdjust="spacingAndGlyphs">固定</text>
<text x="143" y="1730" font-size="30" textLength="72" lengthAdjust="spacingAndGlyphs">Fixed</text>
<text x="479" y="1657" font-size="29" textLength="57" lengthAdjust="spacingAndGlyphs">剛輪</text>
<text x="479" y="1693" font-size="29" textLength="57" lengthAdjust="spacingAndGlyphs">輸出</text>
<text x="465" y="1730" font-size="30" textLength="89" lengthAdjust="spacingAndGlyphs">Output</text>
<text x="471" y="1961" font-size="29" textLength="57" lengthAdjust="spacingAndGlyphs">輸入</text>
<text x="468" y="1999" font-size="30" textLength="66" lengthAdjust="spacingAndGlyphs">Input</text>

<!-- R4: DHG bottom ratio drawing -->
<g stroke="#333" stroke-width="1.3" fill="none">
<rect x="1086" y="1635" width="60" height="70" fill="url(#rb)" stroke="none"/>
<rect x="1086" y="1965" width="60" height="65" fill="url(#rb)" stroke="none"/>
<rect x="1122" y="1732" width="25" height="202" rx="4" fill="#fff"/>
<rect x="1310" y="1732" width="35" height="202" rx="4" fill="#fff"/>
<rect x="1147" y="1644" width="45" height="378" rx="4" fill="#fff"/>
<rect x="1192" y="1653" width="58" height="360" rx="3" fill="#fff"/>
<rect x="1250" y="1653" width="15" height="26" rx="2" fill="url(#kn)"/>
<rect x="1250" y="1986" width="15" height="26" rx="2" fill="url(#kn)"/>
<path d="M1150,1659 H1250 M1150,1673 H1250 M1150,1991 H1250 M1150,2007 H1250" stroke-dasharray="10 5"/>
<rect x="1272" y="1689" width="38" height="287" rx="3" fill="#fff"/>
<path d="M1092,1777 H1349 M1092,1790 H1349 M1092,1875 H1349 M1092,1888 H1349" stroke-dasharray="22 8"/>
<path d="M1180,1768 H1250 M1180,1898 H1250 M1177,1790 V1875 M1265,1790 V1875 M1346,1777 V1888 M1095,1777 V1888" stroke-dasharray="12 6"/>
<path d="M1122,1777 H1095 Q1092,1777 1092,1780 M1122,1790 H1092 M1122,1875 H1092 M1122,1888 H1095 Q1092,1888 1092,1885"/>
<rect x="1255" y="1698" width="30" height="40" rx="3" fill="#ddeefa"/>
<rect x="1255" y="1927" width="30" height="41" rx="3" fill="#ddeefa"/>
<line x1="1272" y1="1698" x2="1272" y2="1738"/><line x1="1272" y1="1927" x2="1272" y2="1968"/>
<path d="M1177,1699 V1735 Q1177,1738 1180,1738 H1285" stroke="#4d3f00" stroke-width="2.6"/>
<path d="M1177,1967 V1930 Q1177,1927 1180,1927 H1285" stroke="#4d3f00" stroke-width="2.6"/>
<line x1="1255" y1="1738" x2="1285" y2="1738" stroke="#e8c000" stroke-width="2"/>
<line x1="1255" y1="1927" x2="1285" y2="1927" stroke="#e8c000" stroke-width="2"/>
<rect x="1165" y="1653" width="13" height="46" rx="2" fill="#f6c400" stroke="#6b5500"/>
<rect x="1165" y="1967" width="13" height="45" rx="2" fill="#f6c400" stroke="#6b5500"/>
<line x1="1146" y1="1634" x2="1146" y2="1706" stroke="#222" stroke-width="2.6"/>
<line x1="1086" y1="1705" x2="1146" y2="1705" stroke="#222" stroke-width="2.2"/>
<line x1="1146" y1="1965" x2="1146" y2="2031" stroke="#222" stroke-width="2.6"/>
<line x1="1086" y1="1965" x2="1146" y2="1965" stroke="#222" stroke-width="2.2"/>
<line x1="1083" y1="1833" x2="1359" y2="1833" stroke-dasharray="22 6 5 6"/>
<line x1="1080" y1="1663" x2="1171" y2="1691" stroke-width="1"/>
<line x1="1365" y1="1672" x2="1279" y2="1725" stroke-width="1"/>
<line x1="1370" y1="1942" x2="1336" y2="1883" stroke-width="1"/>
</g>
<g fill="#111"><circle cx="1171" cy="1691" r="2.4"/><circle cx="1279" cy="1725" r="2.4"/><circle cx="1336" cy="1883" r="2.4"/></g>
<g transform="translate(1059,1836) scale(14.5,62)"><ellipse cx="0" cy="0" rx="1" ry="1" fill="none" stroke="#1a9de0" stroke-width="2.2" vector-effect="non-scaling-stroke"/><path d="M0.1,0.97 C-0.6,0.9 -1.35,0.65 -1.35,0.16 L-1.75,0.16 L-0.88,-0.15 L0,0.16 L-0.4,0.16 C-0.4,0.5 -0.2,0.8 0.1,0.97 Z" fill="#1a9de0"/></g>
<g transform="translate(1290,1966) scale(14.5,62)"><ellipse cx="0" cy="0" rx="1" ry="1" fill="none" stroke="#e50012" stroke-width="2.2" vector-effect="non-scaling-stroke"/><path d="M0.1,0.97 C-0.6,0.9 -1.35,0.65 -1.35,0.16 L-1.75,0.16 L-0.88,-0.15 L0,0.16 L-0.4,0.16 C-0.4,0.5 -0.2,0.8 0.1,0.97 Z" fill="#e50012"/></g>
<text x="1010" y="1665" font-size="30" textLength="61" lengthAdjust="spacingAndGlyphs">柔輪</text>
<text x="1010" y="1703" font-size="30" textLength="61" lengthAdjust="spacingAndGlyphs">固定</text>
<text x="1003" y="1744" font-size="32" textLength="77" lengthAdjust="spacingAndGlyphs">Fixed</text>
<text x="1380" y="1659" font-size="30" textLength="61" lengthAdjust="spacingAndGlyphs">剛輪</text>
<text x="1380" y="1696" font-size="30" textLength="61" lengthAdjust="spacingAndGlyphs">輸出</text>
<text x="1361" y="1737" font-size="32" textLength="98" lengthAdjust="spacingAndGlyphs">Output</text>
<text x="1357" y="1975" font-size="30" textLength="61" lengthAdjust="spacingAndGlyphs">輸入</text>
<text x="1356" y="2016" font-size="32" textLength="70" lengthAdjust="spacingAndGlyphs">Input</text>

<!-- NOTE BAND -->
<rect x="151" y="2050" width="1293" height="45" fill="#dff0f2"/>
<text x="164" y="2082" font-size="23" textLength="1255" lengthAdjust="spacingAndGlyphs">R 為減速機規格表中的減速比。R represents the "Ratio" figure in the specifications table on the catalogue.</text>
<rect x="151" y="2113" width="1293" height="2.6" fill="#555"/>

<!-- FOOTER LOGO -->
<g transform="translate(8,0)">
<g fill="none" stroke="#e60012" stroke-width="3">
<path d="M1242,2163 V2139 H1250 L1262,2154 L1274,2139 H1282 V2163"/>
<line x1="1241" y1="2163" x2="1285" y2="2163"/>
</g>
<circle cx="1263" cy="2131" r="8" fill="none" stroke="#e60012" stroke-width="4" stroke-dasharray="2 1.4"/>
<circle cx="1263" cy="2131" r="5" fill="#fff" stroke="#e60012" stroke-width="1.5"/>
<path d="M1252,2141 H1274 L1263,2152 Z" fill="#e60012"/>
<text x="1293" y="2157" font-size="20" font-weight="bold" textLength="97" lengthAdjust="spacingAndGlyphs" style="fill:#e60012">LIMING</text>
<text x="1422" y="2159" font-size="24" textLength="13" lengthAdjust="spacingAndGlyphs">5</text>
</g>
</g>
</svg>
</body></html>
